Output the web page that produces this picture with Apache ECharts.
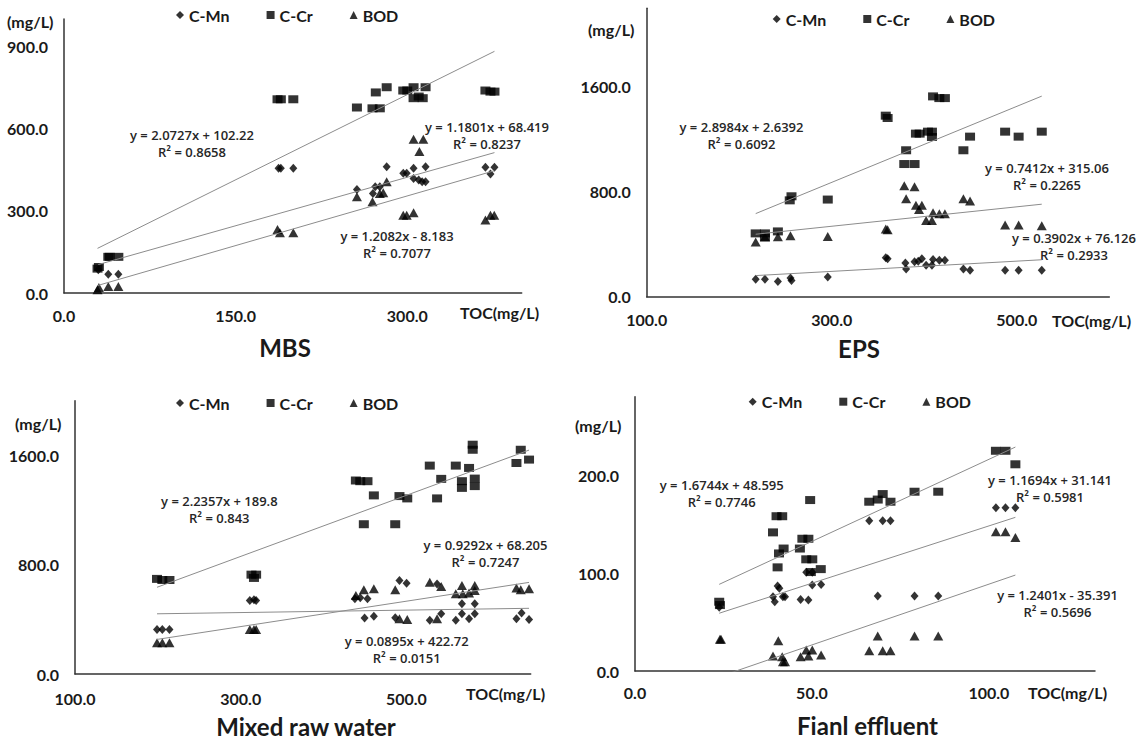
<!DOCTYPE html>
<html><head><meta charset="utf-8">
<script src="https://cdn.jsdelivr.net/npm/echarts@6/dist/echarts.min.js"></script>
<style>html,body{margin:0;padding:0;background:#fff}#c{width:1141px;height:740px}</style>
</head><body><div id="c"></div>
<script>
// ---------------- DATA ----------------
const seriesNames = ['C-Mn', 'C-Cr', 'BOD'];
const panelTitles = ['MBS', 'EPS', 'Mixed raw water', 'Fianl effluent'];
const unitY = '(mg/L)';
const unitX = 'TOC(mg/L)';
// [min, max, interval]
const xTicks = [[0, 400, 150], [100, 600, 200], [100, 650, 200], [0, 130, 50]];
const yTicks = [[0, 1000, 300], [0, 2200, 800], [0, 2000, 800], [0, 280, 100]];

// MBS
const mbsMn = [[30,85],[38.7,68],[47.5,68],[187.5,455],[189.5,455],[200.4,455],[256,378],[270,363],[272,388],[276,388],[282,461],[296.5,437],[299.5,437],[305.5,455],[305.5,418],[310,412],[313,406],[316,406],[316,461],[368.3,459],[372.7,434],[376.2,459]];
const mbsCr = [[29.3,89],[30.5,95],[38.7,132],[40,132],[47.5,132],[186.6,707],[189.5,707],[200.4,707],[256,677],[269.6,674],[276,674],[272.5,732],[282,751],[296.5,739],[300,739],[305.5,751],[305.5,711],[310,717],[313.5,711],[316,751],[368.3,739],[372.7,735],[376.2,735]];
const mbsBod = [[29.3,12],[30.5,20],[38.7,24],[47.5,24],[186.6,232],[188.7,220],[200.4,220],[256,351],[269.6,333],[276,363],[279,366],[282,406],[296.5,284],[299.5,284],[305.5,293],[305.5,561],[310.6,516],[314,561],[368.3,266],[372.7,284],[376,284]];
// EPS
const epsMn = [[217.8,134],[227.8,134],[241.8,116],[255.4,142],[256.5,124],[295.7,150],[358.4,297],[360.4,289],[379.6,258],[380.4,212],[389.5,266],[393.5,271],[397.4,289],[402,240],[408.3,240],[409.5,284],[416.3,279],[422.3,279],[442.3,212],[449.5,201],[487.4,201],[502,201],[527,201]];
const epsCr = [[217.8,483],[227.8,483],[227.8,452],[241.8,498],[254.6,735],[256.5,766],[295.7,741],[358.4,1381],[360.4,1363],[380.4,1117],[378.4,1012],[389.5,1012],[391,1244],[395,1244],[404,1259],[408.3,1218],[408.3,1259],[409.5,1528],[416.3,1515],[422.3,1515],[442.3,1117],[449.5,1221],[487.4,1259],[502,1221],[527,1259]];
const epsBod = [[217.8,418],[227.8,457],[241.8,457],[255.4,465],[295.7,459],[358.4,516],[360.4,511],[378.4,846],[389.5,839],[380.4,748],[391,697],[394.3,666],[397.4,697],[402,581],[408.3,581],[409.5,640],[416.3,632],[422.3,632],[442.3,748],[449.5,730],[487.4,547],[502,547],[527,542]];
// Mixed raw water
const mixMn = [[199,325],[205.4,325],[214,325],[311,538],[316,543],[318.6,538],[437.8,550],[444.3,558],[453,550],[449.5,410],[460.7,422],[491.6,684],[500.2,664],[486.5,412],[528.2,393],[537,658],[542,441],[559.6,393],[567,441],[567,514],[575.6,405],[582.5,441],[582.5,514],[632.8,405],[639,446],[648,398]];
const mixCr = [[199,696],[205.4,688],[214,688],[313,727],[316,703],[318.6,727],[439,1416],[444.3,1411],[453,1411],[448.6,1096],[460.7,1307],[486.5,1096],[491.6,1302],[501,1285],[528.2,1525],[537,1285],[542,1428],[559.6,1525],[567,1411],[567,1362],[575.6,1508],[580,1678],[580,1641],[582.5,1430],[582.5,1375],[632.8,1544],[638,1641],[648,1569]];
const mixBod = [[199,228],[205.4,228],[214,228],[311,325],[316,325],[318.6,325],[439,575],[448.6,616],[460.7,623],[486.5,616],[491.6,405],[501,398],[528.2,672],[537,405],[542,640],[559.6,587],[567,647],[568,587],[575.6,592],[582.5,647],[582.5,611],[632.8,630],[638,616],[648,623]];
// Final effluent
const finMn = [[23.8,65],[39,75.9],[39.5,70.7],[40.3,86.7],[40.8,84.4],[41.8,75.9],[42.4,75.9],[46.8,73],[49,72.4],[48.4,100.7],[50.1,100.7],[50.1,87.8],[52.6,88.4],[66.2,153.4],[70,153.4],[72.2,153.4],[68.6,76.5],[79,76.5],[85.7,76.5],[102,166.7],[104.7,166.7],[107.5,166.7]];
const finCr = [[23.8,70.7],[24,67.3],[39,141.5],[40,158],[41.6,158],[40.3,105.8],[40.7,120],[42,125],[46.6,125],[47.3,135],[49,135],[48.4,114],[50.1,114],[49.5,174.5],[49.7,101],[52.5,104],[66.2,172.8],[68.6,175],[70,180.6],[72.2,172.8],[79,183],[85.7,183],[102,224.8],[104.7,224.8],[107.5,211]];
const finBod = [[24,32.3],[24.3,32.3],[39,15.3],[40.5,31],[41.6,14.6],[41.8,9.5],[42.4,9.5],[46.8,14.6],[48.4,21.4],[49,15.3],[50.1,21.4],[52.6,16.3],[66.2,20.7],[68.6,35.7],[70,20.7],[72.2,20.7],[79,35.7],[85.7,35.7],[102,142.2],[104.7,142.2],[107.5,136.4]];

// trendline [slope, intercept] for C-Mn, C-Cr, BOD
const trendMBS = [[1.1801, 68.419], [2.0727, 102.22], [1.2082, -8.183]];
const trendEPS = [[0.3902, 76.126], [2.8984, 2.6392], [0.7412, 315.06]];
const trendMIX = [[0.0895, 422.72], [2.2357, 189.8], [0.9292, 68.205]];
const trendFIN = [[1.1694, 31.141], [1.6744, 48.595], [1.2401, -35.391]];

// equation labels for C-Mn, C-Cr, BOD
const eqMBS = [['y = 1.1801x + 68.419', 'R² = 0.8237'], ['y = 2.0727x + 102.22', 'R² = 0.8658'], ['y = 1.2082x - 8.183', 'R² = 0.7077']];
const eqEPS = [['y = 0.3902x + 76.126', 'R² = 0.2933'], ['y = 2.8984x + 2.6392', 'R² = 0.6092'], ['y = 0.7412x + 315.06', 'R² = 0.2265']];
const eqMIX = [['y = 0.0895x + 422.72', 'R² = 0.0151'], ['y = 2.2357x + 189.8', 'R² = 0.843'], ['y = 0.9292x + 68.205', 'R² = 0.7247']];
const eqFIN = [['y = 1.1694x + 31.141', 'R² = 0.5981'], ['y = 1.6744x + 48.595', 'R² = 0.7746'], ['y = 1.2401x - 35.391', 'R² = 0.5696']];

// ---------------- LAYOUT ----------------
const panelData = [[mbsMn, mbsCr, mbsBod], [epsMn, epsCr, epsBod], [mixMn, mixCr, mixBod], [finMn, finCr, finBod]];
const panelTrend = [trendMBS, trendEPS, trendMIX, trendFIN];
const panelEq = [eqMBS, eqEPS, eqMIX, eqFIN];
const W = 1141, H = 740;
const layout = [
  { gl: 64, gt: 19, gr: 521.7, gb: 293, xm: 14, legend: [176, 7], unitY: [7, 21], unitX: [460, 312], title: [285, 347],
    eq: [[487, 135], [192, 143], [397, 244]] },
  { gl: 646.7, gt: 8.3, gr: 1109.3, gb: 296.7, xm: 15, legend: [772.7, 11], unitY: [588, 29], unitX: [1052, 320], title: [859, 348],
    eq: [[1074, 246], [741.5, 135], [1047, 176]] },
  { gl: 75, gt: 400.7, gr: 530.7, gb: 674, xm: 16, legend: [176, 395], unitY: [15, 423], unitX: [466, 693], title: [306, 726],
    eq: [[406.7, 649], [219.3, 509], [485.5, 553]] },
  { gl: 635, gt: 396.7, gr: 1095, gb: 671, xm: 13, legend: [748.7, 393.7], unitY: [575, 425], unitX: [1028, 692], title: [867.5, 725],
    eq: [[1050, 488], [721.7, 493], [1057.5, 603]] }
];
const symbols = ['diamond', 'rect', 'triangle'];
const symSizes = [[8, 9], [10, 8], [10, 9]];
const FONT = 'Lato, "Open Sans", sans-serif';
const EQFONT = '"Open Sans", Lato, sans-serif';
const TXT = '#1a1a1a';

const grid = [], xAxis = [], yAxis = [], series = [], legend = [], graphic = [];
layout.forEach((L, p) => {
  grid.push({ left: L.gl, top: L.gt, width: L.gr - L.gl, height: L.gb - L.gt, containLabel: false });
  const [xmin, xmax, xint] = xTicks[p];
  const [ymin, ymax, yint] = yTicks[p];
  xAxis.push({
    type: 'value', gridIndex: p, min: xmin, max: xmax, interval: xint,
    axisLine: { show: true, onZero: false, lineStyle: { color: '#333', width: 1.5 } },
    axisTick: { show: false }, splitLine: { show: false },
    axisLabel: { margin: L.xm, color: TXT, fontFamily: FONT, fontWeight: 'bold', fontSize: 16,
      formatter: v => ((v - xmin) % xint === 0) ? v.toFixed(1) : '' }
  });
  yAxis.push({
    type: 'value', gridIndex: p, min: ymin, max: ymax, interval: yint,
    axisLine: { show: true, onZero: false, lineStyle: { color: '#333', width: 1.5 } },
    axisTick: { show: false }, splitLine: { show: false },
    axisLabel: { margin: 16, color: TXT, fontFamily: FONT, fontWeight: 'bold', fontSize: 16,
      formatter: v => ((v - ymin) % yint === 0) ? v.toFixed(1) : '' }
  });
  panelData[p].forEach((d, s) => {
    series.push({
      name: seriesNames[s], type: 'scatter', xAxisIndex: p, yAxisIndex: p, data: d,
      symbol: symbols[s], symbolSize: symSizes[s], itemStyle: { color: '#000' }, silent: true
    });
  });
  panelData[p].forEach((d, s) => {
    const xs = d.map(q => q[0]);
    const x0 = Math.min(...xs), x1 = Math.max(...xs);
    const [a, b] = panelTrend[p][s];
    series.push({
      name: 'trend', type: 'line', xAxisIndex: p, yAxisIndex: p, clip: true,
      data: [[x0, a * x0 + b], [x1, a * x1 + b]], symbol: 'none', silent: true,
      lineStyle: { color: '#8c8c8c', width: 1 }, z: 3
    });
    const [ex, ey] = L.eq[s];
    graphic.push({ type: 'text', x: ex, y: ey, silent: true,
      style: { text: panelEq[p][s][0] + '\n' + panelEq[p][s][1], textAlign: 'center', textVerticalAlign: 'middle',
        font: '600 13px ' + EQFONT, fill: '#262626', lineHeight: 17 } });
  });
  legend.push({
    data: seriesNames.map((n, i) => ({ name: n, icon: symbols[i] })),
    left: L.legend[0], top: L.legend[1], itemWidth: 8, itemHeight: 8, itemGap: 37, padding: 0,
    selectedMode: false, textStyle: { color: TXT, fontFamily: FONT, fontWeight: 'bold', fontSize: 16 },
    itemStyle: { color: '#000' }
  });
  graphic.push({ type: 'text', x: L.unitY[0], y: L.unitY[1], silent: true,
    style: { text: unitY, textAlign: 'left', textVerticalAlign: 'middle', font: 'bold 16px ' + FONT, fill: TXT } });
  graphic.push({ type: 'text', x: L.unitX[0], y: L.unitX[1], silent: true,
    style: { text: unitX, textAlign: 'left', textVerticalAlign: 'middle', font: 'bold 16px ' + FONT, fill: TXT } });
  graphic.push({ type: 'text', x: L.title[0], y: L.title[1], silent: true,
    style: { text: panelTitles[p], textAlign: 'center', textVerticalAlign: 'middle', font: 'bold 24px ' + FONT, fill: TXT } });
});

const chart = echarts.init(document.getElementById('c'), null, { renderer: 'svg', width: W, height: H });
chart.setOption({ animation: false, backgroundColor: '#fff', grid, xAxis, yAxis, series, legend, graphic });
</script></body></html>
